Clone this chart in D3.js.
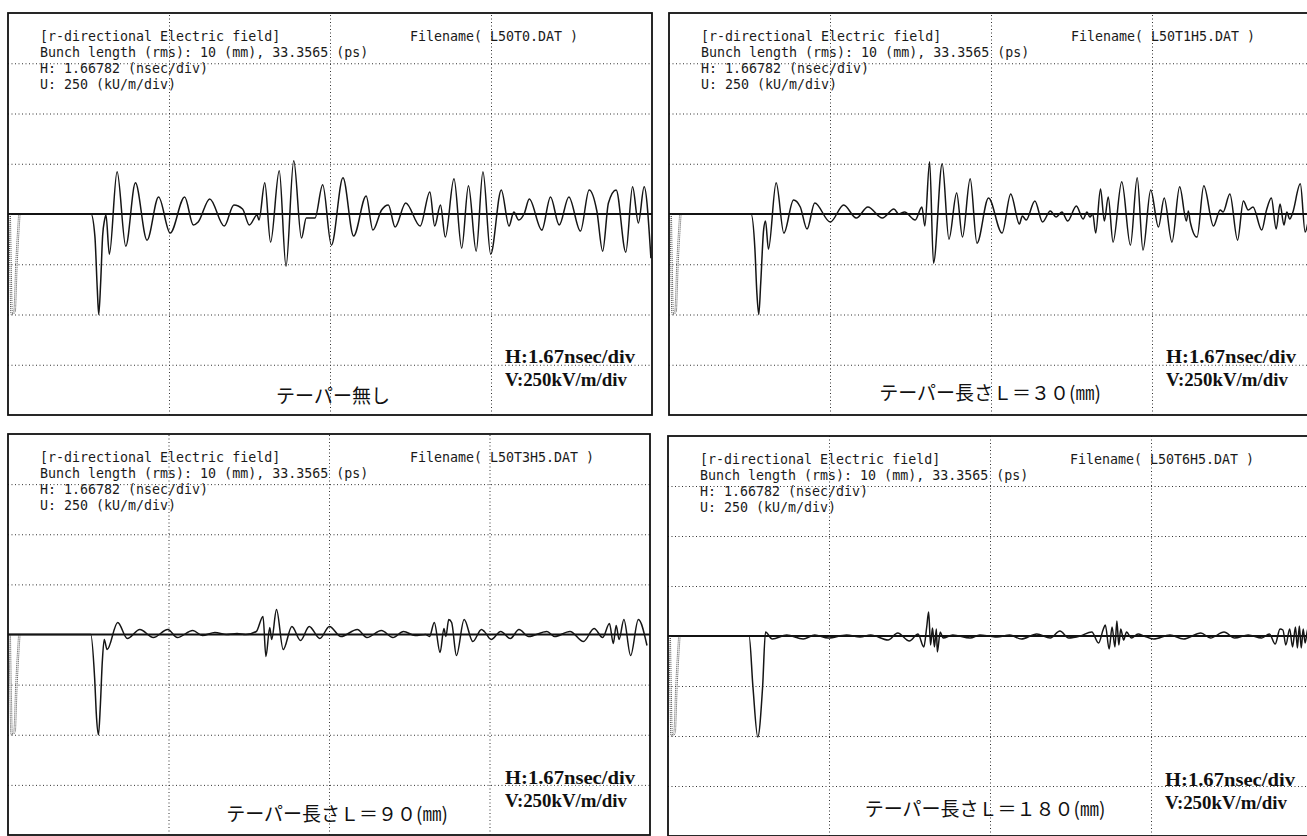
<!DOCTYPE html>
<html>
<head>
<meta charset="utf-8">
<script src="https://cdn.jsdelivr.net/npm/d3@7"></script>
<style>
  body { margin: 0; background: #fff; }
  .grid line { stroke: #333; stroke-width: 1; stroke-dasharray: 1, 2.5; }
  .grid path { display: none; }
  .hdr { font-family: "DejaVu Sans Mono", monospace; font-size: 13.3px; fill: #1a1a1a; }
  .scl { font-family: "Liberation Serif", serif; font-weight: bold; font-size: 19px; fill: #111; }
  .cap { font-family: "Noto Sans CJK JP", sans-serif; font-size: 19px; fill: #111; }
</style>
</head>
<body>
<div id="chart"></div>
<script>
// scope settings
const H_DIV = 1.66782; // nsec/div
const V_DIV = 250;     // kV/m/div

// dotted grid positions (ns, kV/m)
const gridTimes = [1.66782, 3.33564, 5.00346];
const gridFields = [-750, -500, -250, 250, 500, 750];

// bunch profile drawn dotted at the left edge [ns, kV/m]
const bunchProfile = [[0.01, 0], [0.02, -300], [0.03, -500], [0.06, -485], [0.08, -250], [0.11, 0]];

// wake field traces [ns, kV/m]
const wakeNoTaper = [[0,0],[0.86,0],[0.90,-110],[0.925,-375],[0.94,-500],[0.96,-340],[0.98,-110],[1.00,-30],[1.015,-5],
  [1.05,-200],[1.13,210],[1.22,-160],[1.32,155],[1.44,-130],[1.56,85],[1.68,-95],[1.83,85],[1.92,-55],[1.97,-40],
  [2.09,75],[2.24,-60],[2.34,45],[2.43,25],[2.50,-55],[2.58,-5],[2.60,-30],[2.66,155],[2.72,-140],[2.81,215],
  [2.88,-260],[2.96,265],[3.04,-120],[3.09,-20],[3.18,-20],[3.26,145],[3.35,-155],[3.47,180],[3.58,-110],[3.71,90],
  [3.78,-80],[3.87,20],[3.94,45],[4.01,-65],[4.12,55],[4.27,-60],[4.37,110],[4.42,-60],[4.48,45],[4.53,-115],
  [4.62,175],[4.70,-170],[4.77,140],[4.85,-185],[4.92,210],[5.00,-200],[5.11,120],[5.19,-60],[5.24,10],[5.29,-30],
  [5.35,5],[5.40,75],[5.53,-80],[5.62,85],[5.71,-55],[5.81,85],[5.93,-85],[6.02,120],[6.10,15],[6.16,-185],
  [6.22,55],[6.30,120],[6.40,-190],[6.47,135],[6.53,-45],[6.59,135],[6.66,-220]];

const wakeTaper30 = [[0,0],[0.85,0],[0.89,-175],[0.91,-390],[0.93,-500],[0.95,-345],[0.98,-80],[1.00,-35],[1.03,-175],
  [1.11,155],[1.19,-95],[1.29,70],[1.36,35],[1.43,-75],[1.51,55],[1.67,-40],[1.81,45],[1.94,-20],[2.06,35],[2.21,-20],
  [2.33,25],[2.38,0],[2.44,10],[2.55,-30],[2.62,35],[2.65,-60],[2.70,260],[2.74,-245],[2.83,250],[2.90,-125],
  [2.98,105],[3.04,-115],[3.12,175],[3.19,-145],[3.31,80],[3.45,-95],[3.54,100],[3.63,-50],[3.66,-10],[3.70,-30],
  [3.79,65],[3.87,-40],[3.95,15],[4.01,-15],[4.07,10],[4.13,-35],[4.22,40],[4.29,-25],[4.33,10],[4.36,-15],[4.39,0],
  [4.42,-95],[4.47,125],[4.51,-35],[4.55,85],[4.60,-140],[4.69,160],[4.78,-155],[4.85,180],[4.91,-180],[4.99,120],
  [5.07,-65],[5.13,80],[5.21,-140],[5.29,135],[5.36,-35],[5.38,15],[5.40,-40],[5.47,-115],[5.54,140],[5.64,-60],
  [5.71,20],[5.74,10],[5.81,100],[5.89,-130],[5.95,65],[6.00,20],[6.05,35],[6.14,-80],[6.19,20],[6.24,80],[6.29,-75],
  [6.33,50],[6.37,-55],[6.40,10],[6.43,-25],[6.46,5],[6.54,150],[6.59,-90],[6.63,-20],[6.67,40]];

const wakeTaper90 = [[0,0],[0.86,0],[0.90,-215],[0.92,-415],[0.94,-500],[0.96,-350],[0.98,-135],[1.00,-25],[1.03,-75],
  [1.14,60],[1.24,-20],[1.37,25],[1.51,-15],[1.66,25],[1.76,-15],[1.92,20],[2.02,-5],[2.15,10],[2.27,0],[2.38,5],
  [2.47,0],[2.58,15],[2.65,90],[2.68,-110],[2.72,35],[2.74,-25],[2.79,125],[2.86,-75],[2.95,40],[3.04,-30],[3.13,40],
  [3.24,-20],[3.34,40],[3.46,-10],[3.63,25],[3.73,-15],[3.88,20],[4.00,-15],[4.11,15],[4.23,-5],[4.34,0],[4.38,-10],
  [4.43,60],[4.49,-90],[4.53,30],[4.55,-10],[4.58,75],[4.61,60],[4.66,-105],[4.74,75],[4.83,-35],[4.92,25],[4.95,15],
  [5.02,-25],[5.12,15],[5.22,-20],[5.31,25],[5.41,-10],[5.60,15],[5.68,-10],[5.84,15],[5.98,-35],[6.09,30],[6.18,-15],
  [6.25,55],[6.29,-45],[6.32,45],[6.35,-25],[6.40,75],[6.47,-105],[6.55,75],[6.64,-55]];

const wakeTaper180 = [[0,0],[0.84,0],[0.88,-255],[0.93,-505],[0.98,-255],[1.01,20],[1.08,-15],[1.23,5],[1.40,-15],
  [1.52,5],[1.66,-10],[1.85,5],[1.99,-5],[2.10,5],[2.28,-20],[2.38,15],[2.50,-25],[2.59,10],[2.65,-55],[2.68,45],
  [2.70,120],[2.72,-45],[2.74,40],[2.76,-55],[2.78,35],[2.79,-80],[2.82,20],[2.85,-10],[2.95,5],[3.13,-10],[3.23,5],
  [3.33,0],[3.41,-5],[3.54,5],[3.66,-15],[3.82,10],[3.96,-10],[4.06,25],[4.15,-10],[4.27,0],[4.39,20],[4.46,-35],
  [4.51,35],[4.53,55],[4.57,-65],[4.60,45],[4.63,-55],[4.65,75],[4.67,-45],[4.69,35],[4.72,-20],[4.75,20],[4.80,-10],
  [4.87,10],[4.93,0],[5.03,-15],[5.20,5],[5.34,-15],[5.52,15],[5.62,-10],[5.76,20],[5.87,-10],[6.01,5],[6.15,-10],
  [6.23,10],[6.29,-40],[6.34,35],[6.37,30],[6.40,-45],[6.44,35],[6.47,-55],[6.50,45],[6.52,-60],[6.54,50],[6.56,-60],
  [6.58,35],[6.60,-35],[6.63,40],[6.66,-50]];

const traces = [wakeNoTaper, wakeTaper30, wakeTaper90, wakeTaper180];
const fileNames = ["L50T0.DAT", "L50T1H5.DAT", "L50T3H5.DAT", "L50T6H5.DAT"];
const captions = ["テーパー無し", "テーパー長さＬ＝３０(㎜)", "テーパー長さＬ＝９０(㎜)", "テーパー長さＬ＝１８０(㎜)"];
const headerLines = ["[r-directional Electric field]", "Bunch length (rms): 10 (mm), 33.3565 (ps)",
  "H: 1.66782 (nsec/div)", "U: 250 (kU/m/div)"];
const scaleLabels = ["H:1.67nsec/div", "V:250kV/m/div"];

// panel boxes on the page
const panels = [
  { x: 8, y: 13, w: 644, h: 402, capX: 325, capY: 390 },
  { x: 669, y: 13, w: 644, h: 402, capX: 321, capY: 387 },
  { x: 8, y: 434, w: 642, h: 401, capX: 329, capY: 387 },
  { x: 668, y: 436, w: 644, h: 400, capX: 317, capY: 380 },
];

const svg = d3.select("#chart").append("svg")
  .attr("width", 1307).attr("height", 836)
  .style("display", "block");

panels.forEach((p, i) => {
  const x = d3.scaleLinear().domain([0, 4 * H_DIV]).range([0, p.w]);
  const y = d3.scaleLinear().domain([-4 * V_DIV, 4 * V_DIV]).range([p.h, 0]);

  const g = svg.append("g").attr("transform", `translate(${p.x},${p.y})`);

  g.append("clipPath").attr("id", "clip" + i)
    .append("rect").attr("width", p.w).attr("height", p.h);

  // dotted grid
  g.append("g").attr("class", "grid")
    .attr("transform", `translate(0,${p.h})`)
    .call(d3.axisBottom(x).tickValues(gridTimes).tickSize(-p.h).tickFormat(""));
  g.append("g").attr("class", "grid")
    .call(d3.axisLeft(y).tickValues(gridFields).tickSize(-p.w).tickFormat(""));

  // zero line
  g.append("line")
    .attr("x1", 0).attr("x2", p.w)
    .attr("y1", y(0)).attr("y2", y(0))
    .attr("stroke", "#111").attr("stroke-width", 2.2);

  const line = d3.line()
    .x((d) => x(d[0]))
    .y((d) => y(d[1]))
    .curve(d3.curveMonotoneX);

  const plot = g.append("g").attr("clip-path", `url(#clip${i})`);

  // bunch (dotted strands)
  [0, 1.5].forEach((dx) => {
    plot.append("path")
      .attr("transform", `translate(${dx},0)`)
      .attr("d", line(bunchProfile))
      .attr("fill", "none")
      .attr("stroke", "#555")
      .attr("stroke-width", 1)
      .attr("stroke-dasharray", "1,1");
  });

  // wake field
  plot.append("path")
    .attr("d", line(traces[i]))
    .attr("fill", "none")
    .attr("stroke", "#151515")
    .attr("stroke-width", 1.5);

  // frame
  g.append("rect")
    .attr("width", p.w).attr("height", p.h)
    .attr("fill", "none").attr("stroke", "#111").attr("stroke-width", 1.8);

  // header text
  headerLines.forEach((t, k) => {
    g.append("text").attr("class", "hdr")
      .attr("x", 32).attr("y", 28 + k * 16).text(t);
  });
  g.append("text").attr("class", "hdr")
    .attr("x", 402).attr("y", 28)
    .text(`Filename( ${fileNames[i]} )`);

  // scale labels
  scaleLabels.forEach((t, k) => {
    g.append("text").attr("class", "scl")
      .attr("x", 497).attr("y", 350 + k * 23)
      .attr("textLength", k === 0 ? 130 : 122)
      .attr("lengthAdjust", "spacingAndGlyphs")
      .text(t);
  });

  // caption
  g.append("text").attr("class", "cap")
    .attr("x", p.capX).attr("y", p.capY)
    .attr("text-anchor", "middle")
    .text(captions[i]);
});
</script>
</body>
</html>
